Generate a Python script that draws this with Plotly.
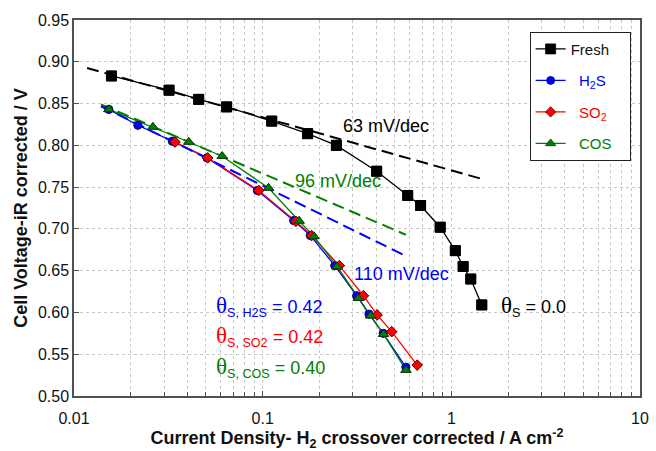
import numpy as np
import plotly.graph_objects as go

# ---------------- data ----------------
fresh_j = [0.0158, 0.0319, 0.0458, 0.0644, 0.1117, 0.173, 0.246, 0.402, 0.587, 0.687, 0.873, 1.05, 1.155, 1.267, 1.45]
fresh_v = [0.883, 0.866, 0.855, 0.846, 0.829, 0.814, 0.800, 0.769, 0.740, 0.728, 0.702, 0.674, 0.655, 0.640, 0.609]

h2s_j = [0.0153, 0.0218, 0.0332, 0.0507, 0.0937, 0.146, 0.179, 0.241, 0.315, 0.366, 0.435, 0.574]
h2s_v = [0.843, 0.824, 0.805, 0.785, 0.746, 0.710, 0.692, 0.656, 0.620, 0.598, 0.575, 0.5345]

so2_j = [0.0343, 0.0511, 0.0953, 0.150, 0.1815, 0.255, 0.342, 0.404, 0.483, 0.659]
so2_v = [0.804, 0.785, 0.746, 0.709, 0.692, 0.656, 0.620, 0.597, 0.577, 0.537]

cos_j = [0.0153, 0.0262, 0.0406, 0.0610, 0.1074, 0.156, 0.187, 0.248, 0.321, 0.374, 0.437, 0.575]
cos_v = [0.843, 0.822, 0.804, 0.787, 0.749, 0.7095, 0.691, 0.655, 0.617, 0.596, 0.574, 0.531]

# Tafel fit lines (end points)
tafel_fresh_j = [0.01173, 1.44]
tafel_fresh_v = [0.8925, 0.760]
tafel_cos_j = [0.0139, 0.574]
tafel_cos_v = [0.849, 0.693]
tafel_h2s_j = [0.0139, 0.574]
tafel_h2s_v = [0.8468, 0.6675]

x_tickvals = [0.01, 0.1, 1, 10]
x_ticktext = ["0.01", "0.1", "1", "10"]

BLUE = "#0000ff"
RED = "#ff0000"
GREEN = "#008000"
BLACK = "#000000"

fig = go.Figure()

NB = "\u00a0"
series = [
    ("Fresh" + NB * 3, fresh_j, fresh_v, BLACK, "square", 10, "#000000"),
    (NB * 2 + '<span style="color:#0000ff">H<sub>2</sub>S</span>' + NB * 3, h2s_j, h2s_v, BLUE, "circle", 8, "#10104a"),
    (NB * 2 + '<span style="color:#ff0000">SO<sub>2</sub></span>' + NB * 3, so2_j, so2_v, RED, "diamond", 8, "#5a0000"),
    (NB * 2 + '<span style="color:#008000">COS</span>' + NB * 3, cos_j, cos_v, GREEN, "triangle-up", 9, "#0a300a"),
]

# data lines (with legend)
for i, (name, xs, ys, col, sym, sz, lc) in enumerate(series):
    fig.add_trace(go.Scatter(
        x=xs, y=ys, mode="lines+markers", name=name, legendgroup="g%d" % i,
        line=dict(color=col, width=1.3),
        marker=dict(symbol=sym, size=sz, color=col, line=dict(color=lc, width=0.8)),
    ))

# Tafel dashed lines
for xs, ys, col in [(tafel_fresh_j, tafel_fresh_v, BLACK),
                    (tafel_cos_j, tafel_cos_v, GREEN),
                    (tafel_h2s_j, tafel_h2s_v, BLUE)]:
    fig.add_trace(go.Scatter(x=xs, y=ys, mode="lines", showlegend=False,
                             line=dict(color=col, width=2, dash="12px,6px")))

# markers on top
for name, xs, ys, col, sym, sz, lc in series:
    fig.add_trace(go.Scatter(
        x=xs, y=ys, mode="markers", showlegend=False,
        marker=dict(symbol=sym, size=sz, color=col, line=dict(color=lc, width=0.8)),
    ))

minor_vals = [m * 10.0 ** e for e in (-2, -1, 0) for m in range(2, 10)]

grid_col = "#c8c8c8"
axis_col = "#505050"

fig.update_xaxes(
    type="log", range=[-2, 1],
    tickmode="array", tickvals=x_tickvals, ticktext=x_ticktext,
    ticks="inside", ticklen=5, tickcolor=axis_col, ticklabelstandoff=7,
    showgrid=True, gridcolor=grid_col, griddash="3px,3px", gridwidth=1,
    minor=dict(tickmode="array", tickvals=minor_vals, ticks="inside", ticklen=4,
               tickcolor=axis_col, showgrid=True, gridcolor=grid_col, griddash="3px,3px"),
    showline=True, linecolor=axis_col, linewidth=1.5, mirror=True,
    zeroline=False,
    tickfont=dict(family="Liberation Sans", size=16, color="#111"),
    title=dict(text="<b>Current Density- H<sub>2</sub> crossover corrected / A cm<sup>-2</sup></b>",
               font=dict(family="Liberation Sans", size=18, color="#111"), standoff=4),
)
fig.update_yaxes(
    range=[0.5, 0.95], dtick=0.05, tick0=0.5, tickformat=".2f",
    ticks="inside", ticklen=5, tickcolor=axis_col,
    showgrid=True, gridcolor=grid_col, griddash="3px,3px", gridwidth=1,
    showline=True, linecolor=axis_col, linewidth=1.5, mirror=True,
    zeroline=False,
    tickfont=dict(family="Liberation Sans", size=16, color="#111"),
    title=dict(text="<b>Cell Voltage-iR corrected / V</b>",
               font=dict(family="Liberation Sans", size=18, color="#111"), standoff=6),
)

ann_font = "Liberation Sans"
theta = '<span style="font-family:Liberation Serif;font-size:23px">θ</span>'
annotations = [
    dict(x=np.log10(0.452), y=0.823, text="63 mV/dec", color=BLACK, xanchor="center"),
    dict(x=np.log10(0.252), y=0.7575, text="96 mV/dec", color=GREEN, xanchor="center"),
    dict(x=np.log10(0.546), y=0.6456, text="110 mV/dec", color=BLUE, xanchor="center"),
    dict(x=np.log10(1.78), y=0.607, text=theta + "<sub>S</sub> = 0.0", color=BLACK, xanchor="left"),
    dict(x=np.log10(0.0553), y=0.607, text=theta + "<sub>S, H2S</sub> = 0.42", color=BLUE, xanchor="left"),
    dict(x=np.log10(0.0553), y=0.571, text=theta + "<sub>S, SO2</sub> = 0.42", color=RED, xanchor="left"),
    dict(x=np.log10(0.0553), y=0.534, text=theta + "<sub>S, COS</sub> = 0.40", color=GREEN, xanchor="left"),
]
for a in annotations:
    fig.add_annotation(x=a["x"], y=a["y"], xref="x", yref="y", text=a["text"],
                       showarrow=False, xanchor=a["xanchor"], yanchor="middle",
                       font=dict(family=ann_font, size=18, color=a["color"]))

fig.update_layout(
    width=656, height=451,
    margin=dict(l=74, r=7, t=20, b=53),
    paper_bgcolor="white", plot_bgcolor="white",
    showlegend=True,
    legend=dict(x=0.805, y=0.969, xanchor="left", yanchor="top",
                bgcolor="white", bordercolor="#222", borderwidth=1,
                font=dict(family="Liberation Sans", size=15, color="#111"),
                tracegroupgap=9, traceorder="grouped", itemwidth=30),
    font=dict(family="Liberation Sans"),
)

fig.write_html("out.html")
